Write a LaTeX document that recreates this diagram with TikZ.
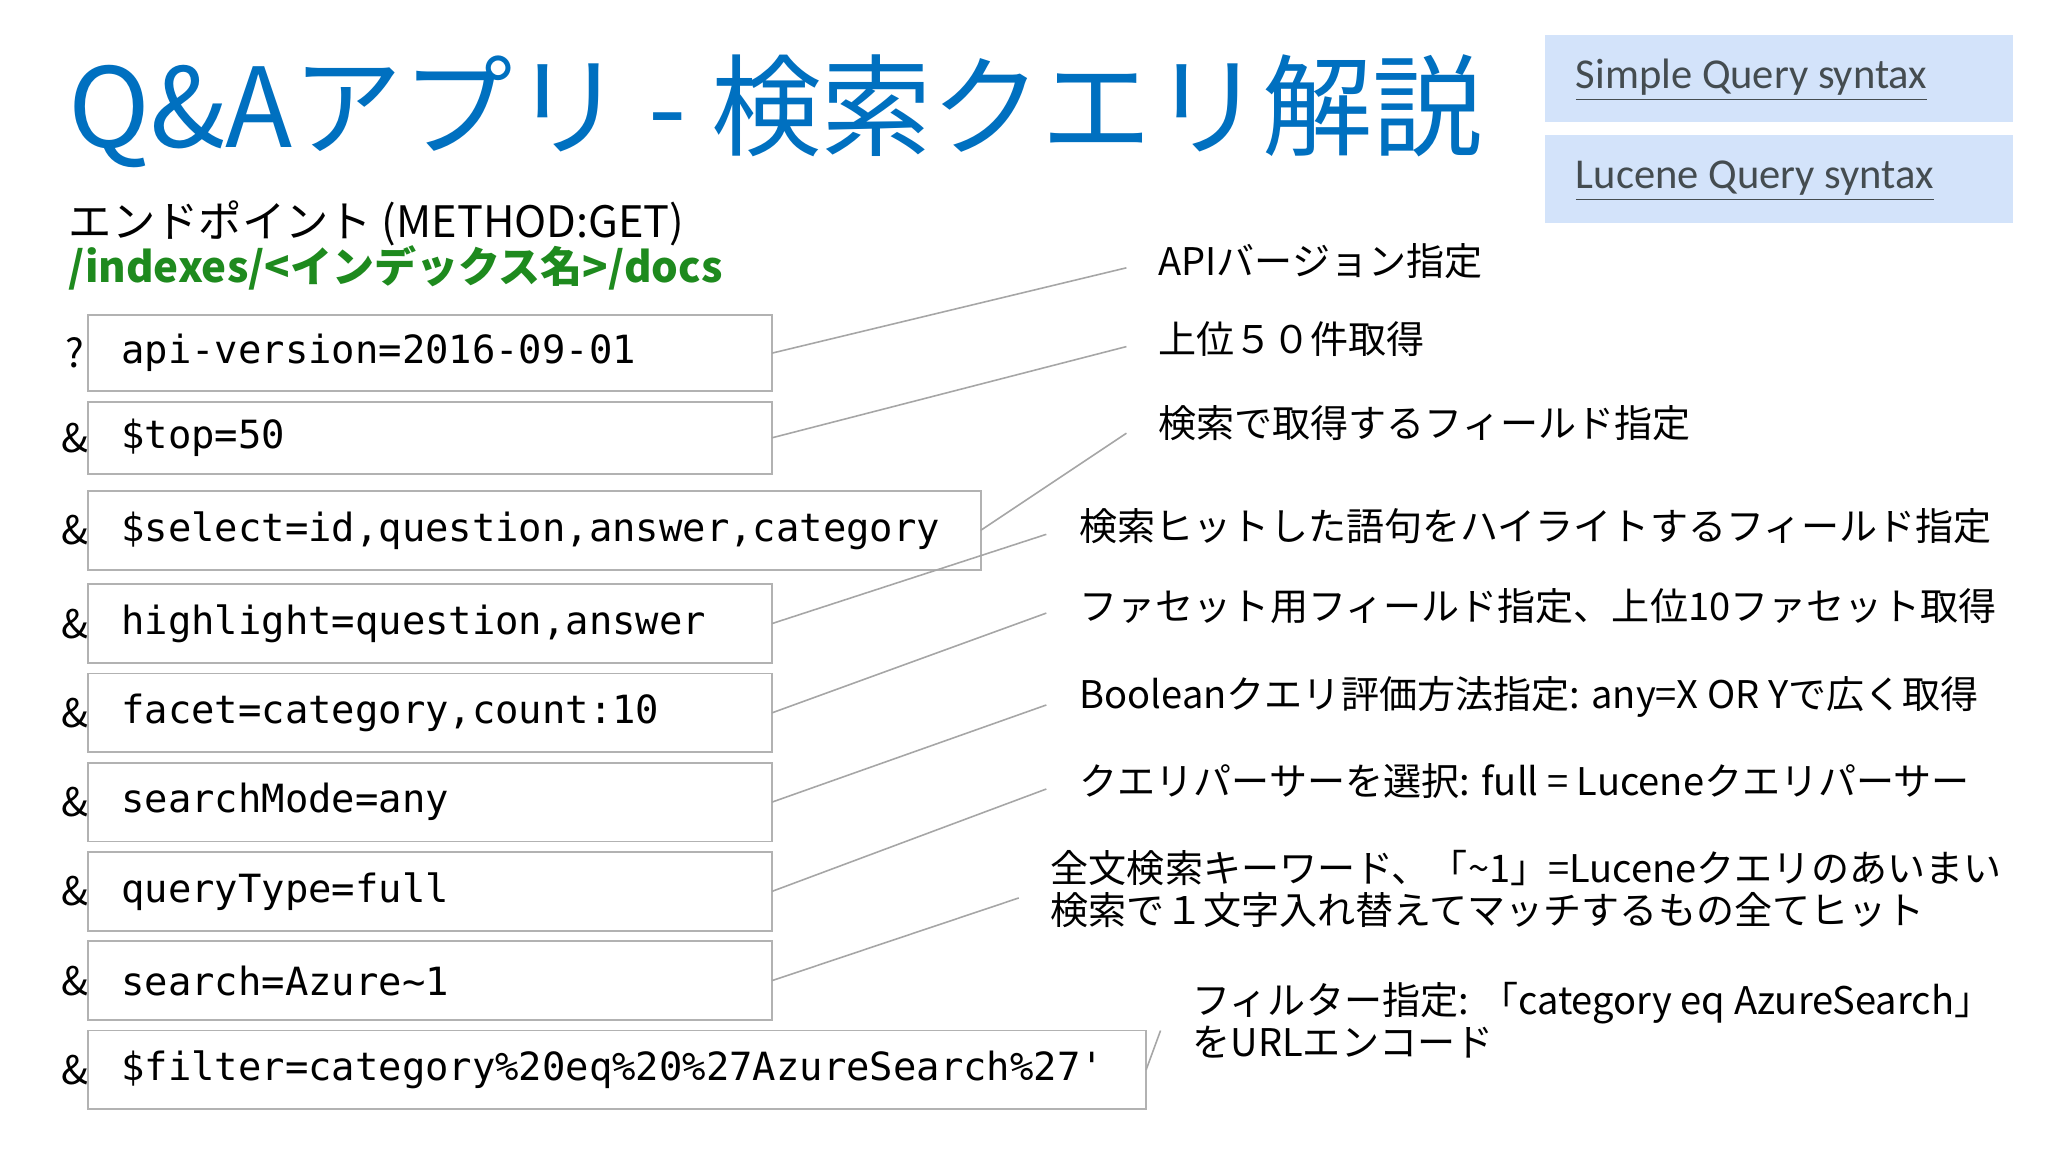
\documentclass[tikz,border=0pt]{standalone}
\usepackage{fontspec}
\setmainfont{Noto Sans CJK JP}
\setmonofont{DejaVu Sans Mono}
\newfontfamily\carl{Carlito}
\definecolor{ttl}{HTML}{0070C0}
\definecolor{grn}{HTML}{1E8A1E}
\definecolor{lnk}{HTML}{444C50}
\definecolor{lbox}{HTML}{D3E3FA}
\begin{document}
\begin{tikzpicture}[x=0.5pt,y=-0.5pt,
  boxst/.style={draw=black!30,line width=0.7pt},
  mono/.style={font=\ttfamily\fontsize{14.8}{18}\selectfont,anchor=west,inner sep=0},
  lbl/.style={font=\fontsize{14.5}{16}\selectfont,anchor=west,inner sep=0,align=left},
  pre/.style={font=\fontsize{15}{18}\selectfont,anchor=center,inner sep=0},
  conn/.style={draw=black!35,line width=0.6pt}]
\fill[white] (0,0) rectangle (1560,877.5);
\node[font=\fontsize{42}{46}\selectfont,text=ttl,anchor=base west,inner sep=0] (title) at (52,112) {Q\&Aアプリ - 検索クエリ解説};
\node[font=\fontsize{16.5}{18}\selectfont,anchor=west,inner sep=0] (ep) at (52,170) {エンドポイント (METHOD:GET)};
\node[font=\bfseries\fontsize{16}{18}\selectfont,text=grn,anchor=west,inner sep=0] (path) at (52,204) {/indexes/<インデックス名>/docs};
\fill[lbox] (1177,27) rectangle (1533,93);
\fill[lbox] (1177,103) rectangle (1533,170);
\node[font=\carl\fontsize{16.2}{18}\selectfont,text=lnk,anchor=west,inner sep=0] (sq) at (1200,61) {\underline{Simple Query syntax}};
\node[font=\carl\fontsize{16.2}{18}\selectfont,text=lnk,anchor=west,inner sep=0] (lq) at (1200,138) {\underline{Lucene Query syntax}};
% boxes
\foreach \n/\ya/\yb/\xr/\p/\t in {
 1/240/298/588/?/api-version=2016-09-01,
 2/306/361/588/\&/\$top=50,
 3/374/434/747/\&/\$select=id{,}question{,}answer{,}category,
 4/445/505/588/\&/highlight=question{,}answer,
 5/513/573/588/\&/facet=category{,}count:10,
 6/581/641/588/\&/searchMode=any,
 7/649/709/588/\&/queryType=full,
 8/717/777/588/\&/search=Azure\string~1,
 9/785/845/873/\&/\$filter=category\%20eq\%20\%27AzureSearch\%27'}{
 \draw[boxst] (67,\ya) rectangle (\xr,\yb);
 \node[mono] (t\n) at (92,{(\ya+\yb)/2}) {\t};
 \node[pre] (p\n) at (57,{(\ya+\yb)/2}) {\p};
 \coordinate (b\n) at (\xr,{(\ya+\yb)/2});
}
\node[lbl] (l1) at (882,199) {APIバージョン指定};
\node[lbl] (l2) at (882,258) {上位５０件取得};
\node[lbl] (l3) at (882,322) {検索で取得するフィールド指定};
\node[lbl] (l4) at (822,401) {検索ヒットした語句をハイライトするフィールド指定};
\node[lbl] (l5) at (822,462) {ファセット用フィールド指定、上位10ファセット取得};
\node[lbl] (l6) at (822,531) {Booleanクエリ評価方法指定: any=X OR Yで広く取得};
\node[lbl] (l7) at (822,595) {クエリパーサーを選択: full = Luceneクエリパーサー};
\node[lbl] (l8) at (800,677) {全文検索キーワード、「\string~1」=Luceneクエリのあいまい\\検索で１文字入れ替えてマッチするもの全てヒット};
\node[lbl] (l9) at (908,777) {フィルター指定: 「category eq AzureSearch」\\をURLエンコード};
\coordinate (e1) at (858,204);
\coordinate (e2) at (858,264);
\coordinate (e3) at (858,330);
\coordinate (e4) at (797,407);
\coordinate (e5) at (797,467);
\coordinate (e6) at (797,537);
\coordinate (e7) at (797,601);
\coordinate (e8) at (776,684);
\coordinate (e9) at (884,785);
\foreach \n in {1,...,9} \draw[conn] (b\n) -- (e\n);
\end{tikzpicture}
\end{document}
